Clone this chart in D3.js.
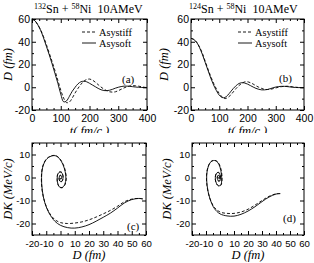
<!DOCTYPE html>
<meta charset="utf-8">
<script src="https://d3js.org/d3.v7.min.js"></script>
<style>
body { margin:0; background:#fff; }
svg { display:block; font-family:"Liberation Serif","Times New Roman",serif; }
.ax text { font-size:10.5px; fill:#000; }
.ax line { stroke:#000; stroke-width:1; }
.ax path { display:none; }
.small .ax text { font-size:9.6px; }
</style>
<body></body>
<script>

// time points (fm/c) for panels (a) and (b)
var times = [0,10,20,30,40,50,60,70,80,90,100,110,120,130,140,150,160,170,180,190,200,
  210,220,230,240,250,260,270,280,290,300,310,320,330,340,350,360,370,380,390,400];

// (a) 132Sn + 58Ni, D(t) in fm
var aSoft = [60,58.5,55,50,43.5,36,28.5,20.5,12,3.5,-6,-12.8,-12,-8,-3.5,0,3,4.8,5.3,4.8,3.5,
  2,0.5,-1,-2.2,-2.9,-3,-2.6,-1.8,-0.8,0,0.6,1,1,0.8,0.5,0.2,0,-0.2,-0.3,-0.3];
var aStiff = [60,58.5,55,50.5,44.5,37.5,30,22.5,14.5,6,-2.5,-9.5,-13.5,-13,-9.5,-5,-1,2.5,5.2,6.8,7.2,
  6.3,4.5,2.3,0.2,-1.6,-3,-4,-4.3,-4,-3,-1.8,-0.6,0.4,1.1,1.4,1.3,1,0.5,0,-0.3];

// (b) 124Sn + 58Ni, D(t) in fm
var bSoft = [43,42,39.5,35,29,22,15,8,2,-3,-7,-9,-9,-7,-4,-1,1.5,3.3,4,3.7,2.8,
  1.5,0.2,-1,-1.8,-2.3,-2.3,-2,-1.3,-0.5,0.2,0.6,0.8,0.8,0.6,0.3,0,-0.2,-0.3,-0.3,-0.3];
var bStiff = [43,42,39.5,35.5,30,23,16,9.5,3.5,-1.5,-5.5,-8.5,-10,-9,-7,-4,-1,1.5,3.5,4.7,4.8,
  4,2.8,1.3,0,-1,-1.8,-2,-1.8,-1.3,-0.6,0,0.5,0.8,0.9,0.7,0.4,0.1,-0.2,-0.4,-0.5];

// (c) phase space [D (fm), DK (MeV/c)] for 132Sn
var cSoft = [[57.7,-9.3],[55,-9.1],[50,-9.6],[45,-11],[40,-13.3],[35,-15.5],[30,-17.3],[25,-19],
  [20,-20.5],[15,-21.5],[10,-22],[5,-21.8],[0,-20.8],[-4,-19],[-8,-15.5],[-11,-11],[-12.8,-5.5],
  [-13.3,0],[-12.5,4.5],[-10,7.8],[-6.5,9.3],[-3.2,9.4],[-0.5,8],[1.8,5.5],[3.3,2.5],[3.8,-0.5],
  [3,-3],[1.3,-4.3],[-0.5,-4.2],[-1.8,-2.8],[-2.3,-0.8],[-2,1.2],[-0.8,2.3],[0.7,2.2],[1.6,1],
  [1.7,-0.5],[1,-1.6],[0,-1.8],[-0.8,-1],[-0.9,0.2],[-0.3,0.9],[0.4,0.7],[0.7,0],[0.4,-0.6],
  [0,-0.6],[-0.2,-0.2]];
var cStiff = [[57.7,-9.3],[55,-9.1],[50,-9.4],[45,-10.5],[40,-12.5],[35,-14.3],[30,-15.8],[25,-17.2],
  [20,-18.4],[15,-19.3],[10,-19.8],[5,-20],[0,-19.6],[-4,-18.3],[-8,-15.2],[-11,-10.8],[-12.9,-5.5],
  [-13.4,0],[-12.6,4.6],[-10.1,7.9],[-6.6,9.4],[-3.2,9.5],[-0.4,8.1],[2,5.6],[3.5,2.5],[4,-0.6],
  [3.2,-3.1],[1.4,-4.4],[-0.5,-4.3],[-1.9,-2.9],[-2.4,-0.8],[-2.1,1.3],[-0.8,2.4],[0.8,2.3],[1.7,1],
  [1.8,-0.6],[1,-1.7],[0,-1.9],[-0.9,-1],[-1,0.2],[-0.3,1],[0.5,0.8],[0.8,0],[0.4,-0.7],[0,-0.6]];

// (d) phase space for 124Sn
var dSoft = [[43,-7],[40,-7.2],[35,-8.5],[30,-10.5],[25,-12.7],[20,-14.6],[15,-16],[10,-16.8],
  [5,-16.7],[0,-15.8],[-4,-13.5],[-7.3,-9],[-9.2,-3.5],[-9.5,1],[-8.5,4.5],[-6.5,6.8],[-4,7.4],
  [-1.7,6.6],[0,4.5],[1,1.5],[1.2,-1.5],[0.5,-3.3],[-1,-3.6],[-2.5,-2.6],[-3.3,-0.8],[-3.1,1],
  [-2.2,2],[-1,2.1],[0,1.2],[0.3,0],[0,-1.2],[-0.8,-1.6],[-1.6,-1],[-1.9,0],[-1.5,0.8],[-0.8,0.9],
  [-0.3,0.4],[-0.3,-0.3],[-0.8,-0.5],[-1.2,-0.1],[-0.9,0.3]];
var dStiff = [[43,-7],[40,-7.1],[35,-8.2],[30,-10],[25,-12],[20,-13.8],[15,-15],[10,-15.6],
  [5,-15.6],[0,-15],[-4,-13],[-7.4,-8.8],[-9.3,-3.5],[-9.6,1],[-8.6,4.6],[-6.5,6.9],[-3.9,7.5],
  [-1.5,6.7],[0.3,4.5],[1.3,1.4],[1.4,-1.6],[0.6,-3.4],[-1,-3.7],[-2.6,-2.6],[-3.4,-0.7],[-3.1,1.1],
  [-2.1,2.1],[-0.8,2.2],[0.2,1.2],[0.5,-0.1],[0.1,-1.3],[-0.8,-1.7],[-1.7,-1],[-2,0.1],[-1.5,0.9],
  [-0.7,1],[-0.2,0.4],[-0.3,-0.4],[-0.9,-0.5],[-1.2,0]];

// tick labels
var tMajor = [0,100,200,300,400], tMinor = [25,50,75,125,150,175,225,250,275,325,350,375];
var dtMajor = [-20,0,20,40,60], dtMinor = [-10,10,30,50];
var dMajor = [-20,-10,0,10,20,30,40,50,60], dMinor = [-15,-5,5,15,25,35,45,55];
var kMajor = [-20,-10,0,10], kMinor = [-25,-15,-5,5,15];

var W = 314, H = 263;
var svg = d3.select("body").append("svg").attr("width", W).attr("height", H);

// the lower row covers the bottom of the upper x labels
svg.append("clipPath").attr("id", "topclip")
  .append("rect").attr("x", 0).attr("y", 0).attr("width", W).attr("height", 133);

function panel(o) {
  var g = svg.append("g").attr("class", o.cls || null);
  var x = d3.scaleLinear().domain(o.xd).range([o.l, o.r]);
  var y = d3.scaleLinear().domain(o.yd).range([o.b, o.t]);
  var fmt = function(d) { return String(d); };

  // ticks inside on all four sides
  function ax(gen, scale, vals, size, pad, tr) {
    var a = gen(scale).tickValues(vals).tickSize(size).tickPadding(pad || 0)
      .tickFormat(pad ? fmt : "");
    g.append("g").attr("class", "ax").attr("transform", tr).call(a);
  }
  ax(d3.axisBottom, x, o.xMajor, -4, 5, "translate(0," + o.b + ")");
  ax(d3.axisBottom, x, o.xMinor, -2, 0, "translate(0," + o.b + ")");
  ax(d3.axisTop, x, o.xMajor, -4, 0, "translate(0," + o.t + ")");
  ax(d3.axisTop, x, o.xMinor, -2, 0, "translate(0," + o.t + ")");
  ax(d3.axisLeft, y, o.yMajor, -4, 2, "translate(" + o.l + ",0)");
  ax(d3.axisLeft, y, o.yMinor, -2, 0, "translate(" + o.l + ",0)");
  ax(d3.axisRight, y, o.yMajor, -4, 0, "translate(" + o.r + ",0)");
  ax(d3.axisRight, y, o.yMinor, -2, 0, "translate(" + o.r + ",0)");

  g.append("rect").attr("x", o.l).attr("y", o.t).attr("width", o.r - o.l).attr("height", o.b - o.t)
    .attr("fill", "none").attr("stroke", "#000").attr("stroke-width", 1);

  var line = d3.line().curve(d3.curveCatmullRom.alpha(0.5))
    .x(function(d) { return x(d[0]); }).y(function(d) { return y(d[1]); });

  g.append("path").datum(o.stiff).attr("d", line).attr("fill", "none")
    .attr("stroke", "#000").attr("stroke-width", 0.9).attr("stroke-dasharray", "3,2");
  g.append("path").datum(o.soft).attr("d", line).attr("fill", "none")
    .attr("stroke", "#000").attr("stroke-width", 0.9);

  g.append("text").attr("x", o.tagX).attr("y", o.tagY).attr("font-size", 11).text(o.tag);

  // y label
  g.append("text").attr("transform", "translate(" + o.ylx + "," + ((o.t + o.b) / 2) + ") rotate(-90)")
    .attr("text-anchor", "middle").attr("font-size", 12.5).attr("font-style", "italic").text(o.ylab);
  // x label
  var xl = g.append("text").attr("x", (o.l + o.r) / 2).attr("y", o.xly)
    .attr("text-anchor", "middle").attr("font-size", 12.5).attr("font-style", "italic").text(o.xlab);
  if (o.clip) xl.attr("clip-path", "url(#topclip)");
  return g;
}

function zip(ts, vs) { return ts.map(function(t, i) { return [t, vs[i]]; }); }

function header(g, x0, lx, mass, sampleX) {
  var t = g.append("text").attr("x", x0).attr("y", 13).attr("font-size", 12);
  t.append("tspan").attr("font-size", 8).attr("dy", -4).text(mass);
  t.append("tspan").attr("dy", 4).text("Sn + ");
  t.append("tspan").attr("font-size", 8).attr("dy", -4).text("58");
  t.append("tspan").attr("dy", 4).text("Ni");
  t.append("tspan").attr("dx", 6).text("10AMeV");

  g.append("line").attr("x1", sampleX).attr("x2", sampleX + 14).attr("y1", 32).attr("y2", 32)
    .attr("stroke", "#000").attr("stroke-width", 0.9).attr("stroke-dasharray", "3,2");
  g.append("line").attr("x1", sampleX).attr("x2", sampleX + 14).attr("y1", 43).attr("y2", 43)
    .attr("stroke", "#000").attr("stroke-width", 0.9);
  g.append("text").attr("x", lx).attr("y", 35.5).attr("font-size", 10.3).text("Asystiff");
  g.append("text").attr("x", lx).attr("y", 46.5).attr("font-size", 10.3).text("Asysoft");
}

var ga = panel({ l: 32, r: 147, t: 19, b: 110, xd: [0, 400], yd: [-20, 60],
  xMajor: tMajor, xMinor: tMinor, yMajor: dtMajor, yMinor: dtMinor,
  soft: zip(times, aSoft), stiff: zip(times, aStiff), tag: "(a)", tagX: 122, tagY: 83,
  ylab: "D (fm)", ylx: 12, xlab: "t( fm/c )", xly: 135, clip: true });
header(ga, 34, 99, "132", 82);

var gb = panel({ l: 191, r: 304, t: 19, b: 110, xd: [0, 400], yd: [-20, 60],
  xMajor: tMajor, xMinor: tMinor, yMajor: dtMajor, yMinor: dtMinor,
  soft: zip(times, bSoft), stiff: zip(times, bStiff), tag: "(b)", tagX: 279, tagY: 82,
  ylab: "D (fm)", ylx: 168, xlab: "t( fm/c )", xly: 135, clip: true });
header(gb, 189, 255, "124", 238);

panel({ l: 32, r: 146, t: 143, b: 235, xd: [-20, 60], yd: [-25, 15], cls: "small",
  xMajor: dMajor, xMinor: dMinor, yMajor: kMajor, yMinor: kMinor,
  soft: cSoft, stiff: cStiff, tag: "(c)", tagX: 127, tagY: 230,
  ylab: "DK (MeV/c)", ylx: 12, xlab: "D (fm)", xly: 259 });

panel({ l: 192, r: 304, t: 143, b: 235, xd: [-20, 60], yd: [-25, 15], cls: "small",
  xMajor: dMajor, xMinor: dMinor, yMajor: kMajor, yMinor: kMinor,
  soft: dSoft, stiff: dStiff, tag: "(d)", tagX: 283, tagY: 222,
  ylab: "DK  (MeV/c)", ylx: 171, xlab: "D (fm)", xly: 259 });

</script>
